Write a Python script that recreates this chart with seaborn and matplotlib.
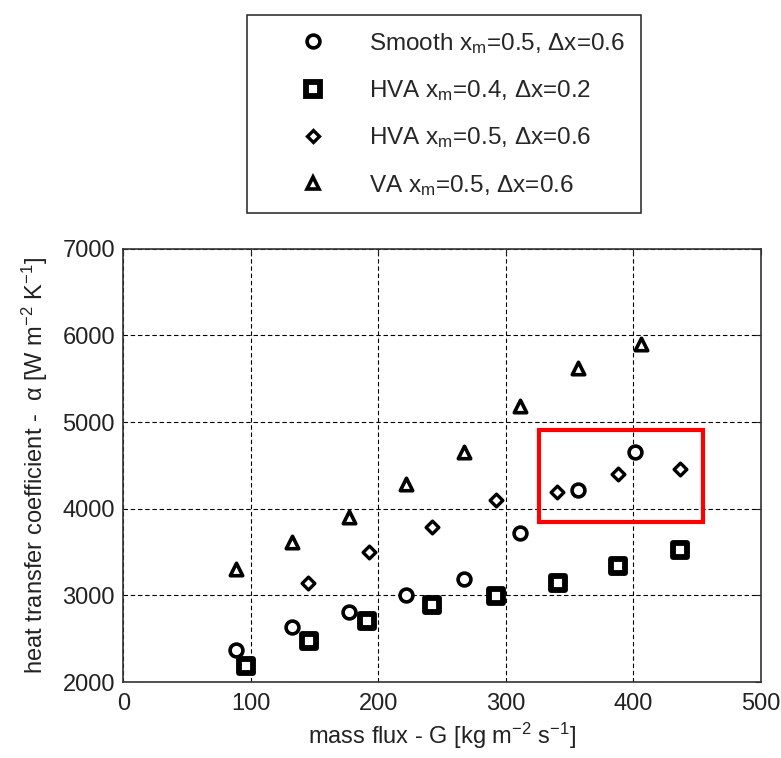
import matplotlib
matplotlib.use("Agg")
import matplotlib.pyplot as plt
import matplotlib.patches as mpatches
import seaborn as sns
import pandas as pd

# data
smooth_G = [88, 132, 177, 222, 267, 311, 357, 401]
smooth_a = [2370, 2635, 2815, 3010, 3185, 3715, 4220, 4660]

hva04_G = [96, 146, 191, 242, 292, 341, 388, 437]
hva04_a = [2185, 2470, 2710, 2895, 2995, 3140, 3335, 3530]

hva05_G = [145, 193, 242, 292, 340, 388, 437]
hva05_a = [3140, 3505, 3795, 4105, 4190, 4405, 4460]

va_G = [88, 132, 177, 222, 267, 311, 357, 406]
va_a = [3300, 3620, 3910, 4290, 4660, 5180, 5625, 5905]

labels = [
    r"Smooth x$_\mathregular{m}$=0.5, Δx=0.6",
    r"HVA x$_\mathregular{m}$=0.4, Δx=0.2",
    r"HVA x$_\mathregular{m}$=0.5, Δx=0.6",
    r"VA x$_\mathregular{m}$=0.5, Δx=0.6",
]

# highlighted region (G range, alpha range)
box_G = [326, 455]
box_a = [3845, 4905]

sns.set_style("white")
plt.rcParams["font.family"] = ["Liberation Sans", "DejaVu Sans"]
plt.rcParams["mathtext.default"] = "regular"

df = pd.concat([
    pd.DataFrame({"G": smooth_G, "alpha": smooth_a, "series": labels[0]}),
    pd.DataFrame({"G": hva04_G, "alpha": hva04_a, "series": labels[1]}),
    pd.DataFrame({"G": hva05_G, "alpha": hva05_a, "series": labels[2]}),
    pd.DataFrame({"G": va_G, "alpha": va_a, "series": labels[3]}),
])

# marker styling per series: marker, size (pt^2), edge width
styles = {
    labels[0]: ("o", 85, 2.6),
    labels[1]: ("s", 95, 4.2),
    labels[2]: ("D", 42, 2.4),
    labels[3]: ("^", 80, 2.6),
}

fig = plt.figure(figsize=(7.81, 7.58), dpi=100)
ax = fig.add_axes([0.158, 0.100, 0.816, 0.572])

handles = []
for lab in labels:
    m, s, lw = styles[lab]
    sub = df[df["series"] == lab]
    sns.scatterplot(data=sub, x="G", y="alpha", marker=m, s=s, color="white",
                    edgecolor="black", linewidth=lw, ax=ax, zorder=3, legend=False)
    handles.append(plt.Line2D([], [], linestyle="none", marker=m,
                              markersize=s ** 0.5, markerfacecolor="white",
                              markeredgecolor="black", markeredgewidth=lw))

ax.add_patch(mpatches.Rectangle((box_G[0], box_a[0]), box_G[1] - box_G[0],
                                box_a[1] - box_a[0], fill=False,
                                edgecolor="red", linewidth=3, zorder=4))

ax.set_xlim(0, 500)
ax.set_ylim(2000, 7000)
ax.set_xticks([0, 100, 200, 300, 400, 500])
ax.set_yticks([2000, 3000, 4000, 5000, 6000, 7000])
ax.grid(True, color="black", linestyle=(0, (4, 2.5)), linewidth=0.8)
for sp in ax.spines.values():
    sp.set_visible(True)
    sp.set_color("#333333")
    sp.set_linewidth(1.2)
ax.tick_params(direction="in", length=4, width=0.8, top=True, right=True,
               labelsize=17, colors="#222222")
ax.tick_params(axis="x", pad=8)
ax.tick_params(axis="y", pad=6)

ax.set_xlabel("mass flux - G [kg m$^{-2}$ s$^{-1}$]", fontsize=17, labelpad=4,
              color="#222222")
ax.set_ylabel(r"heat transfer coefficient -  α [W m$^{-2}$ K$^{-1}$]",
              fontsize=17, labelpad=9, color="#222222")

leg = fig.legend(handles, labels, loc="upper center", bbox_to_anchor=(0.5685, 0.98),
                 fontsize=17.5, frameon=True, fancybox=False, borderpad=0.65,
                 labelspacing=0.92, handlelength=4.15, handletextpad=0.25,
                 borderaxespad=0)
leg.get_frame().set_edgecolor("black")
leg.get_frame().set_linewidth(1.2)

fig.savefig("out.png", dpi=100)
